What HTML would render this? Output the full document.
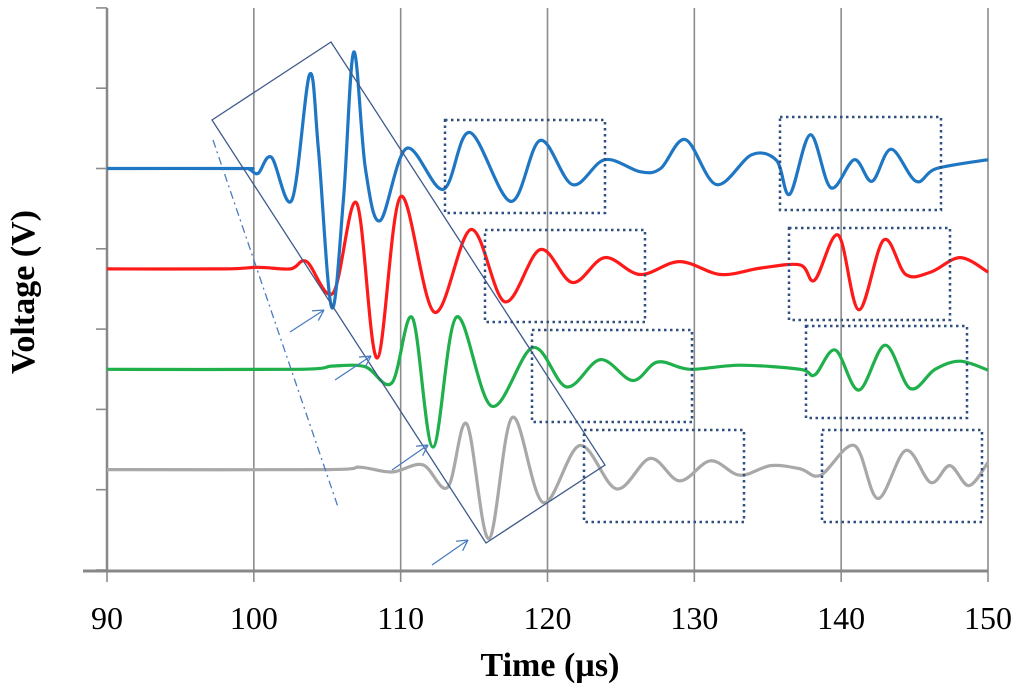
<!DOCTYPE html>
<html><head><meta charset="utf-8"><style>
html,body{margin:0;padding:0;background:#fff;width:1024px;height:691px;overflow:hidden}
svg text{font-family:"Liberation Serif",serif}
</style></head><body>
<svg id="chart" width="1024" height="691" viewBox="0 0 1024 691" xmlns="http://www.w3.org/2000/svg">
<g id="grid"></g>
<g id="axes"></g>
<g id="series"></g>
<g id="annot"></g>
<text x="0" y="0" transform="translate(34,292) rotate(-90)" text-anchor="middle" font-size="34" font-weight="bold">Voltage (V)</text>
<text x="550" y="676" text-anchor="middle" font-size="34" font-weight="bold">Time (µs)</text>
</svg>
<script>
const xTicks=[90,100,110,120,130,140,150];
const yTickCount=7;
const baselines=[5,3.75,2.5,1.25];
const colors=['#1f77c4','#ff1a1a','#1fb04c','#a8a8a8'];
const names=['blue-signal','red-signal','green-signal','gray-signal'];
const blueT=[90,99.1,99.7,100.3,101.2,102.6,103.8,104.4,105.3,106.1,106.8,107.6,108.6,110.4,112.9,114.7,117.5,119.5,121.7,123.9,126.3,127.7,129.4,131.5,133.9,135.6,136.5,137.9,139.3,140.9,142.1,143.4,145.1,146.5,150];
const blueV=[0,0,-0.01,-0.06,0.14,-0.39,1.17,0.24,-1.73,-0.39,1.45,0,-0.65,0.25,-0.26,0.45,-0.41,0.35,-0.2,0.11,-0.04,0,0.36,-0.2,0.17,0.1,-0.32,0.42,-0.24,0.11,-0.16,0.24,-0.16,0,0.11];
const redT=[90,98,100.3,102.5,103.6,105.4,107.0,108.4,110.0,112.3,114.8,117.1,119.5,121.7,123.9,126.3,129.0,131.8,134.5,137.2,138.2,139.8,141.2,142.9,144.4,146.1,148.1,150];
const redV=[0,0,0.02,0,0.09,-0.3,0.82,-1.11,0.9,-0.54,0.49,-0.41,0.24,-0.17,0.14,-0.07,0.09,-0.07,0.01,0.05,-0.14,0.42,-0.51,0.36,-0.07,-0.04,0.14,-0.04];
const greenT=[90,103,105.4,107.6,109.4,110.8,112.2,113.8,116.2,119.0,121.3,123.6,125.8,127.5,129.7,133.1,137.2,138.2,139.6,141.2,143.0,144.7,146.4,148.1,150];
const greenV=[0,0,0.04,0.03,-0.17,0.64,-0.97,0.65,-0.46,0.27,-0.22,0.12,-0.14,0.09,0,0.05,0,-0.07,0.24,-0.26,0.3,-0.24,0,0.1,-0.01];
const grayT=[90,105,107.2,109.4,111.5,113.2,114.5,116.0,117.6,119.7,122.2,124.7,127.0,129.0,131.1,133.1,135.2,137.2,138.6,140.9,142.5,144.4,146.1,147.4,148.7,150];
const grayV=[0,0,0.03,-0.03,0.06,-0.22,0.57,-0.86,0.65,-0.41,0.3,-0.24,0.14,-0.14,0.11,-0.07,0.05,0.01,-0.07,0.3,-0.36,0.24,-0.16,0.05,-0.2,0.09];
const seriesT=[blueT,redT,greenT,grayT], seriesV=[blueV,redV,greenV,grayV];
const X0=107,X1=988,Y0=570,YU=80.3;
const sx=t=>X0+(t-90)/60*(X1-X0);
const sy=v=>Y0-v*YU;
const NS='http://www.w3.org/2000/svg';
function mk(tag,attrs,parent){const e=document.createElementNS(NS,tag);for(const k in attrs)e.setAttribute(k,attrs[k]);parent.appendChild(e);return e;}
const grid=document.getElementById('grid'),axes=document.getElementById('axes'),ser=document.getElementById('series'),an=document.getElementById('annot');
xTicks.forEach((t,i)=>{
 if(i>0){const g=mk('line',{x1:sx(t),x2:sx(t),y1:8,y2:Y0,stroke:'#8c8c8c','stroke-width':1.6},grid);
 
 }
 const tk=mk('line',{x1:sx(t),x2:sx(t),y1:Y0,y2:Y0+12,stroke:'#8c8c8c','stroke-width':1.6},axes);
 
 
 const tx=mk('text',{x:sx(t),y:629,'text-anchor':'middle','font-size':32},axes);
 tx.textContent=t;
 
 
});
for(let i=0;i<=yTickCount;i++){
 const tk=mk('line',{x1:96,x2:X0,y1:sy(i),y2:sy(i),stroke:'#8c8c8c','stroke-width':1.6},axes);
 
 
}
const ya=mk('line',{x1:X0,x2:X0,y1:8,y2:Y0+1,stroke:'#888','stroke-width':2.5},axes);


const xa=mk('line',{x1:83,x2:X1,y1:Y0+1,y2:Y0+1,stroke:'#888','stroke-width':3},axes);


function curve(T,V,b){
 const p=T.map((t,i)=>[sx(t),sy(b+V[i])]);
 let d='M'+p[0][0].toFixed(1)+','+p[0][1].toFixed(1);
 for(let i=0;i<p.length-1;i++){
  const a=p[Math.max(0,i-1)],c=p[i],e=p[i+1],f=p[Math.min(p.length-1,i+2)];
  const c1x=c[0]+(e[0]-a[0])/6,c1y=c[1]+(e[1]-a[1])/6,c2x=e[0]-(f[0]-c[0])/6,c2y=e[1]-(f[1]-c[1])/6;
  d+=' C'+c1x.toFixed(1)+','+c1y.toFixed(1)+' '+c2x.toFixed(1)+','+c2y.toFixed(1)+' '+e[0].toFixed(1)+','+e[1].toFixed(1);
 }
 return d;
}
for(let s=3;s>=0;s--){
 const pth=mk('path',{d:curve(seriesT[s],seriesV[s],baselines[s]),fill:'none',stroke:colors[s],'stroke-width':3.2,'stroke-linejoin':'round'},ser);
 
 
}
const rb=mk('polygon',{points:'212,120 331,42 605,465 486,543',fill:'none',stroke:'#3f5a8a','stroke-width':1.3},an);


const dl=mk('line',{x1:213,y1:140,x2:338,y2:507,stroke:'#4a7cc0','stroke-width':1.3,'stroke-dasharray':'8,4,2,4'},an);


[[290,332,324,310],[335,380,371,356],[392,470,428,445],[432,565,468,540]].forEach(a=>{
 const g=mk('g',{stroke:'#4a7cc0','stroke-width':1.3,fill:'none'},an);
 
 
 mk('line',{x1:a[0],y1:a[1],x2:a[2],y2:a[3]},g);
 const ang=Math.atan2(a[3]-a[1],a[2]-a[0]);
 [0.5,-0.5].forEach(o=>mk('line',{x1:a[2],y1:a[3],x2:a[2]-12*Math.cos(ang+o),y2:a[3]-12*Math.sin(ang+o)},g));
});
[[445,120,605,213],[780,117,941,210],[485,230,645,322],[789,228,950,320],[532,330,692,422],[806,326,967,418],[584,430,744,522],[822,430,982,522]].forEach(r=>{
 const b=mk('rect',{x:r[0],y:r[1],width:r[2]-r[0],height:r[3]-r[1],fill:'none',stroke:'#2f4f80','stroke-width':2.5,'stroke-dasharray':'2.5,3.5'},an);
 
 
});
</script>
</body></html>
